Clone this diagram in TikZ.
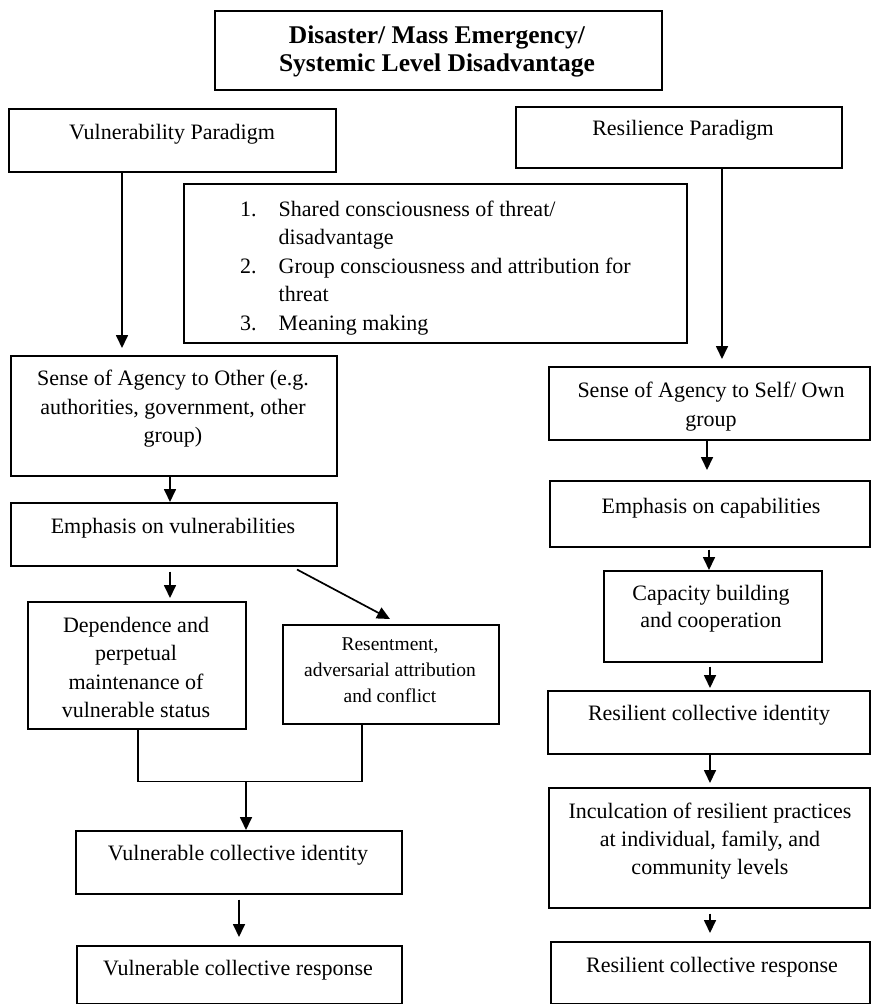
\documentclass[tikz,border=0pt]{standalone}
\usepackage{fontspec}
\setmainfont{Liberation Serif}
\usetikzlibrary{arrows.meta}
\begin{document}
\begin{tikzpicture}[x=1pt,y=-1pt,
  box/.style={draw, line width=1.5pt, inner sep=0pt, anchor=north west},
  txt/.style={inner sep=0pt, align=center, anchor=north, font=\fontsize{22}{28.5}\selectfont},
  smalltxt/.style={inner sep=0pt, align=center, anchor=north, font=\fontsize{19.5}{26}\selectfont},
  titletxt/.style={inner sep=0pt, align=center, anchor=north, font=\fontsize{25.5}{28}\selectfont\bfseries},
  arr/.style={line width=1.7pt, -{Triangle[length=13pt,width=12pt]}},
  conn/.style={line width=1.6pt}
]
\fill[white] (0,0) rectangle (871,1004);
\useasboundingbox (0,0) rectangle (871,1004);

% boxes
\node[box, minimum width=447pt, minimum height=79pt]  (top) at (214,10) {};
\node[box, minimum width=327pt, minimum height=63pt]  (vp)  at (8,108) {};
\node[box, minimum width=326pt, minimum height=61pt]  (rp)  at (515,106) {};
\node[box, minimum width=503pt, minimum height=159pt] (mid) at (183,183) {};
\node[box, minimum width=326pt, minimum height=120pt] (so)  at (10,355) {};
\node[box, minimum width=326pt, minimum height=63pt]  (ev)  at (10,502) {};
\node[box, minimum width=218pt, minimum height=127pt] (dep) at (27,601) {};
\node[box, minimum width=216pt, minimum height=99pt]  (res) at (282,624) {};
\node[box, minimum width=326pt, minimum height=63pt]  (vci) at (75,830) {};
\node[box, minimum width=325pt, minimum height=58pt]  (vcr) at (76,945) {};
\node[box, minimum width=321pt, minimum height=73pt]  (ss)  at (548,366) {};
\node[box, minimum width=320pt, minimum height=66pt]  (ec)  at (549,480) {};
\node[box, minimum width=218pt, minimum height=91pt]  (cb)  at (603,570) {};
\node[box, minimum width=322pt, minimum height=63pt]  (rci) at (547,690) {};
\node[box, minimum width=321pt, minimum height=120pt] (inc) at (548,787) {};
\node[box, minimum width=319pt, minimum height=62pt]  (rcr) at (550,941) {};

% texts
\node[titletxt] (ttop) at (437,26) {Disaster/ Mass Emergency/\\Systemic Level Disadvantage};
\node[txt] (tvp) at (172,124) {Vulnerability Paradigm};
\node[txt] (trp) at (683,120) {Resilience Paradigm};
\node[inner sep=0pt, anchor=north west, font=\fontsize{22}{28.5}\selectfont] (tmid) at (240,196)
  {\begin{tabular}{@{}l@{\hspace{22pt}}l@{}}
   1. & Shared consciousness of threat/\\
      & disadvantage\\
   2. & Group consciousness and attribution for\\
      & threat\\
   3. & Meaning making
   \end{tabular}};
\node[txt] (tso) at (173,370) {Sense of Agency to Other (e.g.\\authorities, government, other\\group)};
\node[txt] (tev) at (173,518) {Emphasis on vulnerabilities};
\node[txt] (tdep) at (136,617) {Dependence and\\perpetual\\maintenance of\\vulnerable status};
\node[smalltxt] (tres) at (390,638) {Resentment,\\adversarial attribution\\and conflict};
\node[txt] (tvci) at (238,845) {Vulnerable collective identity};
\node[txt] (tvcr) at (238,960) {Vulnerable collective response};
\node[txt] (tss) at (711,382) {Sense of Agency to Self/ Own\\group};
\node[txt] (tec) at (711,498) {Emphasis on capabilities};
\node[txt, font=\fontsize{22}{27}\selectfont] (tcb) at (711,585) {Capacity building\\and cooperation};
\node[txt] (trci) at (709,705) {Resilient collective identity};
\node[txt, font=\fontsize{22}{28}\selectfont] (tinc) at (710,803) {Inculcation of resilient practices\\at individual, family, and\\community levels};
\node[txt] (trcr) at (712,957) {Resilient collective response};

% connectors
\coordinate (a1) at ([xshift=114pt]vp.south west);
\draw[arr, shorten >=7pt] (a1) -- (a1 |- so.north);
\coordinate (a2) at ([xshift=207pt]rp.south west);
\draw[arr, shorten >=7pt] (a2) -- (a2 |- ss.north);
\coordinate (a3) at ([xshift=160pt]so.south west);
\draw[arr] (a3) -- (a3 |- ev.north);
\coordinate (a4) at ([xshift=160pt]ev.south west);
\draw[arr, shorten <=5pt, shorten >=3pt] (a4) -- (a4 |- dep.north);
\draw[arr] ([xshift=287pt,yshift=-3pt]ev.south west) -- ([xshift=108pt,yshift=5pt]res.north west);
\draw[conn] ([xshift=111pt]dep.south west) -- ++(0,52) coordinate (mL) -| ([xshift=80pt]res.south west);
\coordinate (v1) at ([xshift=171pt]vci.north west);
\draw[arr] (mL -| v1) -- (v1);
\coordinate (a5) at ([xshift=164pt]vci.south west);
\draw[arr, shorten <=5pt, shorten >=8pt] (a5) -- (a5 |- vcr.north);
\coordinate (a6) at ([xshift=159pt]ss.south west);
\draw[arr, shorten >=10pt] (a6) -- (a6 |- ec.north);
\coordinate (a7) at ([xshift=160pt]ec.south west);
\draw[arr, shorten <=2pt] (a7) -- (a7 |- cb.north);
\coordinate (a8) at ([xshift=107pt]cb.south west);
\draw[arr, shorten <=4pt, shorten >=2pt] (a8) -- (a8 |- rci.north);
\coordinate (a9) at ([xshift=163pt]rci.south west);
\draw[arr, shorten >=4pt] (a9) -- (a9 |- inc.north);
\coordinate (a10) at ([xshift=162pt]inc.south west);
\draw[arr, shorten <=5pt, shorten >=8pt] (a10) -- (a10 |- rcr.north);
\end{tikzpicture}
\end{document}
